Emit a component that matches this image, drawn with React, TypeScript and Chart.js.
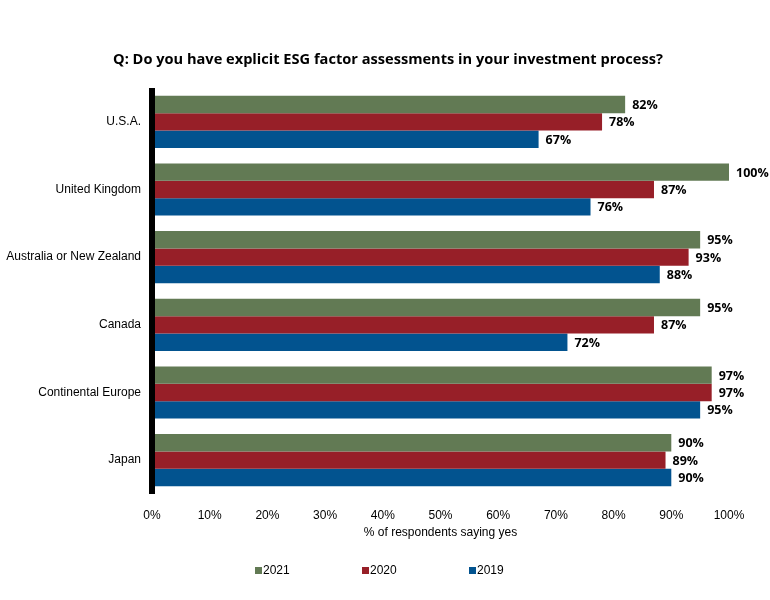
import React, { useEffect, useRef } from "react";
import { Chart, registerables } from "chart.js";

Chart.register(...registerables);

const TITLE = "Q: Do you have explicit ESG factor assessments in your investment process?";
const X_TITLE = "% of respondents saying yes";
const categories = [
  "U.S.A.",
  "United Kingdom",
  "Australia or New Zealand",
  "Canada",
  "Continental Europe",
  "Japan",
];
const years = ["2021", "2020", "2019"];
const values2021 = [82, 100, 95, 95, 97, 90];
const values2020 = [78, 87, 93, 87, 97, 89];
const values2019 = [67, 76, 88, 72, 95, 90];
const colors = ["#627a54", "#971f28", "#02538f"];
const xTicks = [0, 10, 20, 30, 40, 50, 60, 70, 80, 90, 100];

const customTitle = {
  id: "customTitle",
  afterDraw(chart: any) {
    const { ctx } = chart;
    ctx.save();
    ctx.font = "bold 14.6px 'Open Sans', sans-serif";
    ctx.fillStyle = "#000";
    ctx.textAlign = "center";
    ctx.textBaseline = "middle";
    ctx.fillText(TITLE, 388, 60);
    ctx.restore();
  },
};

const valueLabels = {
  id: "valueLabels",
  afterDatasetsDraw(chart: any) {
    const ctx = chart.ctx;
    ctx.save();
    ctx.font = "bold 12.5px 'Open Sans', sans-serif";
    ctx.fillStyle = "#000";
    ctx.textAlign = "left";
    ctx.textBaseline = "middle";
    chart.data.datasets.forEach((ds: any, i: number) => {
      const meta = chart.getDatasetMeta(i);
      meta.data.forEach((bar: any, j: number) => {
        ctx.fillText(ds.data[j] + "%", bar.x + 7, bar.y + 1);
      });
    });
    ctx.restore();
  },
};

const axisLine = {
  id: "axisLine",
  afterDatasetsDraw(chart: any) {
    const { ctx, chartArea } = chart;
    ctx.save();
    ctx.fillStyle = "#000";
    ctx.fillRect(chartArea.left - 3, chartArea.top, 6, chartArea.bottom - chartArea.top);
    ctx.restore();
  },
};

const customLegend = {
  id: "customLegend",
  afterDraw(chart: any) {
    const { ctx, chartArea } = chart;
    const ds = chart.data.datasets;
    const spacing = 107;
    const startX = 255;
    const y = chartArea.bottom + 76;
    ctx.save();
    ctx.font = "12px 'Liberation Sans', Arial, sans-serif";
    ctx.textBaseline = "middle";
    ctx.textAlign = "left";
    ds.forEach((d: any, i: number) => {
      const x = startX + i * spacing;
      ctx.fillStyle = d.backgroundColor;
      ctx.fillRect(x, y - 3, 7, 7);
      ctx.fillStyle = "#000";
      ctx.fillText(d.label, x + 8, y + 1);
    });
    ctx.restore();
  },
};

export default function App() {
  const ref = useRef<HTMLCanvasElement>(null);
  useEffect(() => {
    if (!ref.current) return;
    const seriesData = [values2021, values2020, values2019];
    const chart = new Chart(ref.current, {
      type: "bar",
      data: {
        labels: categories,
        datasets: years.map((y, i) => ({
          label: y,
          data: seriesData[i],
          backgroundColor: colors[i],
          borderWidth: 0,
          barPercentage: 1,
          categoryPercentage: 0.77,
        })),
      },
      options: {
        indexAxis: "y",
        animation: false,
        responsive: false,
        maintainAspectRatio: false,
        layout: { padding: { left: 0, right: 41, top: 88, bottom: 53 } },
        plugins: {
          legend: { display: false },
          tooltip: { enabled: false },
          title: { display: false },
        },
        scales: {
          x: {
            min: 0,
            max: 100,
            afterBuildTicks(scale: any) {
              scale.ticks = xTicks.map((v) => ({ value: v }));
            },
            afterFit(scale: any) {
              scale.height = 53;
            },
            grid: { display: false, drawTicks: false },
            border: { display: false },
            ticks: {
              color: "#000",
              padding: 14,
              font: { family: "'Liberation Sans', Arial, sans-serif", size: 12 },
              callback: (v: any) => v + "%",
              maxRotation: 0,
            },
            title: {
              display: true,
              text: X_TITLE,
              color: "#000",
              font: { family: "'Liberation Sans', Arial, sans-serif", size: 12 },
              padding: { top: 0, bottom: 7 },
            },
          },
          y: {
            afterFit(scale: any) {
              scale.width = 152;
            },
            grid: { display: false, drawTicks: false },
            border: { display: false },
            ticks: {
              color: "#000",
              padding: 11,
              font: { family: "'Liberation Sans', Arial, sans-serif", size: 12 },
            },
          },
        },
      },
      plugins: [axisLine, valueLabels, customLegend, customTitle],
    });
    return () => chart.destroy();
  }, []);
  return (
    <div style={{ position: "absolute", left: 0, top: 0, width: 770, height: 600, background: "#fff" }}>
      <canvas ref={ref} width={770} height={600} style={{ width: 770, height: 600 }} />
    </div>
  );
}
